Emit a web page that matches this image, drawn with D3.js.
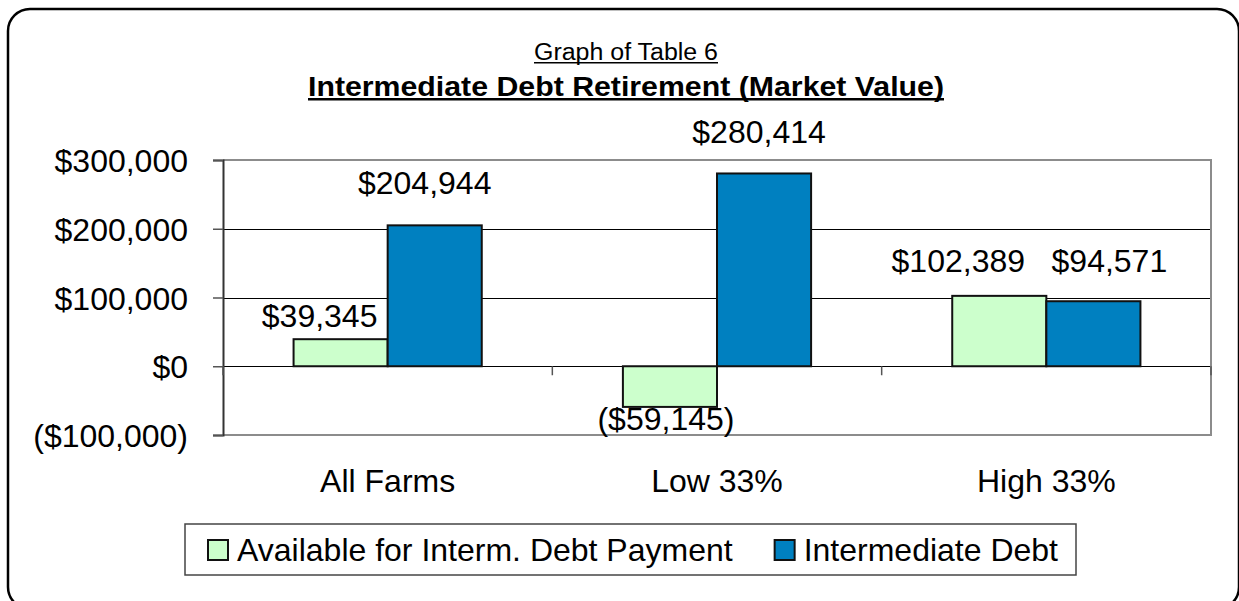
<!DOCTYPE html>
<html>
<head>
<meta charset="utf-8">
<script src="https://cdn.jsdelivr.net/npm/d3@7"></script>
<style>
  body { margin: 0; background: #fff; }
  svg { display: block; font-family: "Liberation Sans", Arial, sans-serif; }
</style>
</head>
<body>
<svg id="chart"></svg>
<script>
// Chart data
var categories = ["All Farms", "Low 33%", "High 33%"],
    seriesNames = ["Available for Interm. Debt Payment", "Intermediate Debt"],
    available = [39345, -59145, 102389],
    intermediate = [204944, 280414, 94571],
    yTicks = [-100000, 0, 100000, 200000, 300000];

// Data labels were hand-moved in the original, so keep their nudges (dx, gap)
var labelNudge = [[-21, 12], [-10, 31], [-4, 23], [-5, 30], [-41, 24], [16, 29]];

var W = 1239, H = 601,
    plotL = 223, plotR = 1211, plotT = 160, plotB = 435,
    colors = ["#CCFFCC", "#0080C0"];

var svg = d3.select("#chart").attr("width", W).attr("height", H);

// outer rounded frame
svg.append("rect")
    .attr("x", 8).attr("y", 9)
    .attr("width", 1231).attr("height", 600)
    .attr("rx", 22)
    .attr("fill", "#fff")
    .attr("stroke", "#000")
    .attr("stroke-width", 2.5);

var x = d3.scaleBand().domain(categories).range([plotL, plotR])
    .paddingInner(1.5 / 3.5).paddingOuter(0.75 / 3.5);
var xs = d3.scaleBand().domain([0, 1]).range([0, x.bandwidth()]);
var y = d3.scaleLinear().domain([-100000, 300000]).range([plotB, plotT]);

var money = d3.format("$,.0f");
function fmt(v) { return v < 0 ? "(" + money(-v) + ")" : money(v); }

// gridlines (inner ones)
svg.append("g").selectAll("line")
    .data(yTicks.filter(function (t) { return t > -100000 && t < 300000; }))
    .enter().append("line")
    .attr("x1", plotL).attr("x2", plotR)
    .attr("y1", function (d) { return Math.round(y(d)) + 0.5; })
    .attr("y2", function (d) { return Math.round(y(d)) + 0.5; })
    .attr("stroke", "#000").attr("stroke-width", 1);

// plot area border (top, right, bottom)
svg.append("path")
    .attr("d", "M" + plotL + "," + plotT + "H" + plotR + "V" + plotB + "H" + plotL)
    .attr("fill", "none")
    .attr("stroke", "#8c8c8c")
    .attr("stroke-width", 2);

// y axis
var yAxis = svg.append("g")
    .attr("transform", "translate(" + plotL + ",0)")
    .call(d3.axisLeft(y).tickValues(yTicks).tickSize(10).tickPadding(25).tickFormat(fmt));
yAxis.select(".domain").attr("stroke", "#333").attr("stroke-width", 2);
yAxis.selectAll(".tick line").attr("stroke", "#555").attr("stroke-width", 1.5);
yAxis.selectAll(".tick text")
    .attr("font-size", 32)
    .attr("font-family", "Liberation Sans, Arial, sans-serif")
    .attr("fill", "#000")
    .attr("dy", "0.36em");

// category ticks on the zero line
svg.append("g").selectAll("line")
    .data(d3.range(categories.length + 1))
    .enter().append("line")
    .attr("x1", function (i) { return plotL + i * x.step(); })
    .attr("x2", function (i) { return plotL + i * x.step(); })
    .attr("y1", y(0)).attr("y2", y(0) + 9)
    .attr("stroke", "#555").attr("stroke-width", 1.5);

// bars
var rows = [];
categories.forEach(function (c, i) {
    rows.push({ cat: c, s: 0, v: available[i] });
    rows.push({ cat: c, s: 1, v: intermediate[i] });
});

svg.append("g").selectAll("rect")
    .data(rows)
    .enter().append("rect")
    .attr("x", function (d) { return x(d.cat) + xs(d.s); })
    .attr("width", xs.bandwidth())
    .attr("y", function (d) { return y(Math.max(0, d.v)); })
    .attr("height", function (d) { return Math.abs(y(d.v) - y(0)); })
    .attr("fill", function (d) { return colors[d.s]; })
    .attr("stroke", "#111")
    .attr("stroke-width", 2);

// value labels
svg.append("g").selectAll("text")
    .data(rows)
    .enter().append("text")
    .attr("x", function (d, i) { return x(d.cat) + xs(d.s) + xs.bandwidth() / 2 + labelNudge[i][0]; })
    .attr("y", function (d, i) {
        return d.v >= 0 ? y(d.v) - labelNudge[i][1] : y(d.v) + labelNudge[i][1];
    })
    .attr("text-anchor", "middle")
    .attr("font-size", 32)
    .text(function (d) { return fmt(d.v); });

// category labels
svg.append("g").selectAll("text")
    .data(categories)
    .enter().append("text")
    .attr("x", function (d) { return x(d) + x.bandwidth() / 2; })
    .attr("y", 492)
    .attr("text-anchor", "middle")
    .attr("font-size", 32)
    .text(function (d) { return d; });

// titles with underline
function underlined(txt, cx, base, size, weight, width) {
    var t = svg.append("text")
        .attr("x", cx).attr("y", base)
        .attr("text-anchor", "middle")
        .attr("font-size", size)
        .attr("font-weight", weight)
        .attr("textLength", width)
        .attr("lengthAdjust", "spacingAndGlyphs")
        .text(txt);
    svg.append("line")
        .attr("x1", cx - width / 2).attr("x2", cx + width / 2)
        .attr("y1", base + size * 0.12).attr("y2", base + size * 0.12)
        .attr("stroke", "#000")
        .attr("stroke-width", weight === "bold" ? 2.5 : 1.5);
    return t;
}
underlined("Graph of Table 6", 626, 60, 23, "normal", 184);
underlined("Intermediate Debt Retirement (Market Value)", 626, 96, 27, "bold", 636);

// legend
var legend = svg.append("g");
legend.append("rect")
    .attr("x", 185).attr("y", 524)
    .attr("width", 891).attr("height", 51)
    .attr("fill", "#fff")
    .attr("stroke", "#444")
    .attr("stroke-width", 1.5);

var lx = 208;
seriesNames.forEach(function (name, i) {
    legend.append("rect")
        .attr("x", lx).attr("y", 540)
        .attr("width", 20).attr("height", 20)
        .attr("fill", colors[i])
        .attr("stroke", "#111")
        .attr("stroke-width", 2);
    var t = legend.append("text")
        .attr("x", lx + 29).attr("y", 561)
        .attr("font-size", 32)
        .text(name);
    lx = lx + 29 + t.node().getComputedTextLength() + 42;
});
</script>
</body>
</html>
